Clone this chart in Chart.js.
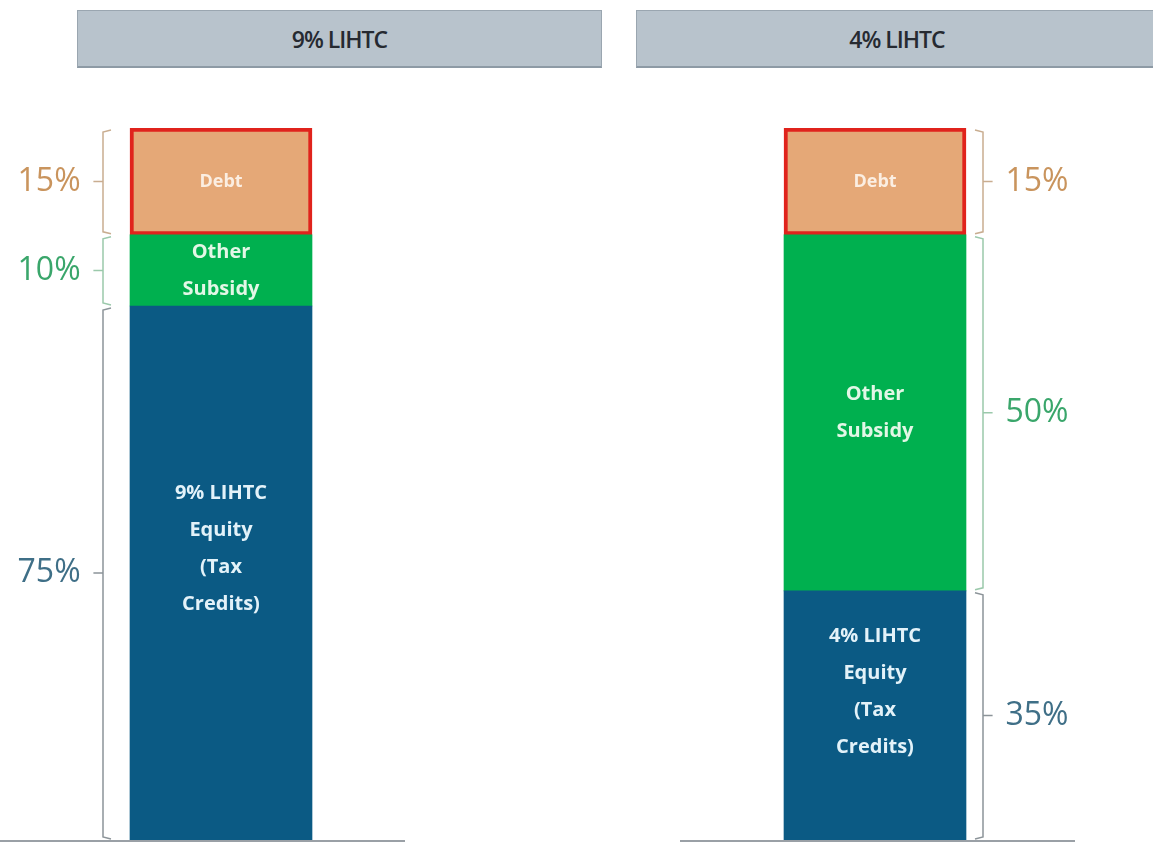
<!DOCTYPE html>
<html>
<head>
<meta charset="utf-8">
<script src="https://cdn.jsdelivr.net/npm/chart.js@4.4.1/dist/chart.umd.min.js"></script>
<style>
  body { margin: 0; background: #fff; width: 1153px; height: 844px; position: relative; overflow: hidden; font-family: 'Open Sans', sans-serif; }
  .head { position: absolute; top: 10px; height: 55px; background: #b8c3cc; border: 1px solid #9aa6b0; border-bottom: 2px solid #8d9aa5;
          display: flex; align-items: center; justify-content: center; font-size: 23px; font-weight: 600; color: #262a31; letter-spacing: -1px; }
  .panel { position: absolute; top: 0; height: 844px; }
</style>
</head>
<body>
<div class="head" style="left:77px;width:523px">9% LIHTC</div>
<div class="head" style="left:636px;width:520px">4% LIHTC</div>
<div class="panel" style="left:0;width:442px"><canvas id="chart9" width="442" height="844"></canvas></div>
<div class="panel" style="left:600px;width:550px"><canvas id="chart4" width="550" height="844"></canvas></div>
<script>
const headers = ['9% LIHTC', '4% LIHTC'];
const equityShare = [75, 35];
const subsidyShare = [10, 50];
const debtShare = [15, 15];
const equityText = [['9% LIHTC', 'Equity', '(Tax', 'Credits)'], ['4% LIHTC', 'Equity', '(Tax', 'Credits)']];
const subsidyText = ['Other', 'Subsidy'];
const debtText = ['Debt'];

const pctColors = ['#3f6f87', '#3aa66b', '#c9945d'];
const braceColors = ['#8c9499', '#9bc9ab', '#c9ad90'];

// braces + percent labels + text inside the bar
const bracePlugin = {
  id: 'braces',
  afterDatasetsDraw(chart, args, opts) {
    const ctx = chart.ctx;
    const side = opts.side; // -1 labels on left, 1 on right
    const texts = [opts.equity, subsidyText, debtText];
    const fills = ['#e3f2f9', '#e2f7e6', '#fbeee2'];
    const fontSizes = [20, 20, 18];
    chart.data.datasets.forEach((ds, i) => {
      const bar = chart.getDatasetMeta(i).data[0];
      const top = bar.y, bottom = bar.base;
      const mid = (top + bottom) / 2;
      const bx = side < 0 ? bar.x - bar.width / 2 - 27 : bar.x + bar.width / 2 + 17;
      const inward = side < 0 ? 8 : -8;
      // brace
      ctx.save();
      ctx.strokeStyle = braceColors[i];
      ctx.lineWidth = 1.5;
      ctx.beginPath();
      ctx.moveTo(bx + inward, top + 2);
      ctx.lineTo(bx, top + 4);
      ctx.lineTo(bx, bottom - 3);
      ctx.lineTo(bx + inward, bottom - 1);
      ctx.moveTo(bx, mid);
      ctx.lineTo(bx - inward * 1.2, mid);
      ctx.stroke();
      // percent label
      ctx.fillStyle = pctColors[i];
      ctx.font = '32px "Open Sans"';
      ctx.textBaseline = 'middle';
      ctx.textAlign = side < 0 ? 'right' : 'left';
      ctx.fillText(ds.data[0] + '%', bx - inward * 2.8, mid);
      // inside text
      const lines = texts[i];
      const lh = 37;
      ctx.fillStyle = fills[i];
      ctx.font = 'bold ' + fontSizes[i] + 'px "Open Sans"';
      ctx.textAlign = 'center';
      const y0 = mid - (lines.length - 1) * lh / 2 + (lines.length > 2 ? -24 : 0);
      lines.forEach((t, k) => ctx.fillText(t, bar.x, y0 + k * lh));
      ctx.restore();
    });
    // baseline
    ctx.save();
    ctx.strokeStyle = '#9aa0a6';
    ctx.lineWidth = 2;
    ctx.beginPath();
    ctx.moveTo(opts.baseFrom, chart.chartArea.bottom + 1);
    ctx.lineTo(opts.baseTo, chart.chartArea.bottom + 1);
    ctx.stroke();
    ctx.restore();
  }
};

function makeChart(id, idx, side, baseFrom, baseTo) {
  return new Chart(document.getElementById(id), {
    type: 'bar',
    data: {
      labels: [headers[idx]],
      datasets: [
        { label: 'Equity', data: [equityShare[idx]], backgroundColor: '#0b5a84', borderWidth: 0 },
        { label: 'Other Subsidy', data: [subsidyShare[idx]], backgroundColor: '#00b04f', borderWidth: 0 },
        { label: 'Debt', data: [debtShare[idx]], backgroundColor: '#e5a877', borderColor: '#e0231c', borderWidth: 4, borderSkipped: false }
      ]
    },
    options: {
      responsive: false,
      animation: false,
      layout: { padding: { top: 128, bottom: 4, left: 0, right: 0 } },
      barThickness: 182,
      scales: {
        x: { stacked: true, display: false },
        y: { stacked: true, display: false, min: 0, max: 100 }
      },
      plugins: {
        legend: { display: false },
        tooltip: { enabled: false },
        braces: { side: side, equity: equityText[idx], baseFrom: baseFrom, baseTo: baseTo }
      }
    },
    plugins: [bracePlugin]
  });
}

makeChart('chart9', 0, -1, 0, 405);
makeChart('chart4', 1, 1, 80, 475);
</script>
</body>
</html>
